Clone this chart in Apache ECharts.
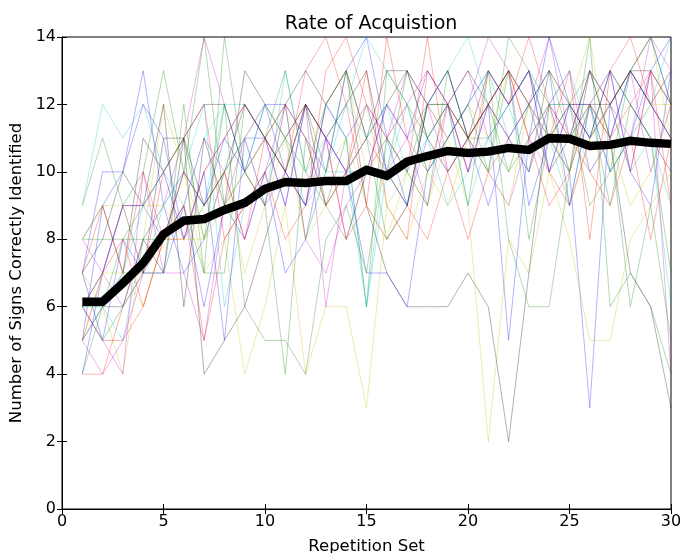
<!DOCTYPE html>
<html><head><meta charset="utf-8">
<script src="https://cdn.jsdelivr.net/npm/echarts@6/dist/echarts.min.js"></script>
<style>html,body{margin:0;padding:0;background:#fff}#c{width:684px;height:553px}</style>
</head><body><div id="c"></div>
<script>
var repetitions = [1,2,3,4,5,6,7,8,9,10,11,12,13,14,15,16,17,18,19,20,21,22,23,24,25,26,27,28,29,30];
var meanScores = [6.15,6.15,6.7,7.3,8.15,8.55,8.6,8.87,9.08,9.5,9.7,9.67,9.73,9.73,10.06,9.88,10.3,10.47,10.62,10.56,10.6,10.71,10.65,11.0,10.98,10.77,10.8,10.92,10.86,10.83];
var xTicks = [0,5,10,15,20,25,30];
var yTicks = [0,2,4,6,8,10,12,14];

var b1 = [5,9,10,13,9,7,8,10,11,12,12,11,10,13,14,11,9,12,13,11,12,13,9,11,10,3,12,13,14,12];
var b2 = [7,10,10,12,11,8,10,5,11,11,9,12,11,10,10,12,11,13,12,10,12,5,11,14,12,12,11,13,12,11];
var b3 = [6,5,8,7,7,9,6,9,8,10,7,8,11,10,7,7,6,10,11,12,13,12,13,10,12,11,13,10,9,13];
var b4 = [4,7,9,9,8,10,9,11,10,12,10,9,12,11,12,10,9,11,10,11,9,11,12,13,9,12,10,11,13,14];
var g1 = [9,11,9,10,13,10,14,9,10,11,13,10,9,11,6,13,12,10,11,12,10,13,8,11,12,13,11,6,9,5];
var g2 = [6,6,7,7,7,12,7,14,10,9,4,11,9,8,10,10,13,11,12,9,13,8,6,6,10,14,6,7,6,4];
var g3 = [8,8,8,8,8,9,7,7,12,11,12,8,10,13,11,8,9,12,12,11,11,10,12,13,11,12,9,12,11,7];
var g4 = [4,6,8,9,10,11,8,12,6,5,5,4,8,9,7,11,10,9,13,11,10,14,13,12,12,9,10,13,14,12];
var r1 = [6,5,5,6,8,8,10,11,12,11,10,13,14,12,9,8,9,8,10,11,12,13,11,10,9,11,12,10,13,12];
var r2 = [4,4,6,7,10,11,12,8,9,10,11,12,11,8,9,14,11,10,12,10,13,12,14,12,11,10,9,11,8,11];
var r3 = [7,9,7,10,8,9,5,8,9,10,8,9,13,14,12,11,10,14,10,8,10,11,12,11,13,8,13,14,12,13];
var r4 = [5,7,8,6,8,10,9,10,8,11,12,11,9,10,13,9,8,13,12,11,12,13,11,9,10,12,11,12,13,9];
var c1 = [9,12,11,12,10,8,9,12,12,11,10,12,10,10,6,10,12,11,9,10,11,12,13,11,10,12,13,12,11,6];
var c2 = [6,6,5,8,9,10,9,10,11,9,13,10,12,11,6,11,10,12,13,14,12,10,11,12,12,10,11,13,12,13];
var c3 = [7,5,6,7,9,10,12,6,9,10,11,9,10,12,14,13,12,10,11,12,13,11,12,11,9,12,10,11,12,14];
var c4 = [5,6,7,9,10,9,11,12,10,12,11,10,11,12,11,12,10,11,12,9,11,12,10,12,13,11,12,10,11,9];
var m1 = [6,7,6,8,9,11,14,12,10,11,9,12,11,8,10,11,13,12,11,12,14,13,12,14,11,12,13,10,13,4];
var m2 = [7,5,4,10,7,7,5,9,11,9,10,12,6,10,11,10,11,9,12,13,11,12,13,10,12,11,12,13,10,12];
var m3 = [5,4,5,7,8,9,11,10,8,10,12,8,7,9,10,12,11,12,10,11,10,9,11,12,13,10,11,13,12,11];
var m4 = [8,7,9,9,10,8,10,11,12,11,10,9,11,10,12,11,12,13,12,10,12,11,10,12,11,13,12,11,14,13];
var y1 = [7,6,4,8,12,10,7,8,4,6,9,4,6,6,3,9,10,12,11,9,2,8,7,10,8,5,5,8,9,10];
var y2 = [6,5,6,7,8,10,8,9,10,11,10,12,10,11,9,8,10,9,11,12,11,13,12,13,12,14,10,11,12,12];
var y3 = [8,9,9,9,9,8,9,10,11,12,11,10,12,13,10,11,12,11,10,11,12,10,11,12,9,11,12,13,14,11];
var y4 = [5,7,7,6,8,8,8,10,7,9,11,8,9,10,12,9,8,10,9,11,10,9,12,11,10,12,11,9,10,12];
var k1 = [8,9,7,11,10,11,4,5,6,8,10,9,12,13,9,7,6,6,6,7,6,2,7,12,10,13,11,7,6,3];
var k2 = [7,8,10,9,12,6,11,9,13,12,11,12,9,10,11,12,13,12,12,11,13,12,13,11,12,12,12,13,13,12];
var k3 = [6,7,9,7,11,11,12,12,10,9,12,13,12,13,11,13,13,11,12,13,12,11,10,13,12,11,13,12,11,10];
var k4 = [5,6,6,8,7,11,9,10,12,11,10,12,11,12,13,10,9,12,13,11,12,13,12,10,11,13,12,13,12,11];

var participants = [b1,g1,r1,c1,m1,y1,k1,b2,g2,r2,c2,m2,y2,k2,b3,g3,r3,c3,m3,y3,k3,b4,g4,r4,c4,m4,y4,k4];
var cycle = ['#0000ff','#008000','#ff0000','#00bfbf','#bf00bf','#bfbf00','#000000'];

var series = participants.map(function(vals, i){
  return {
    type:'line', data: repetitions.map(function(x,j){return [x, vals[j]];}),
    showSymbol:false, symbol:'none', silent:true, animation:false,
    lineStyle:{color:cycle[i%7], width:0.8, opacity:0.38}
  };
});
series.push({
  type:'line', data: repetitions.map(function(x,j){return [x, meanScores[j]];}),
  symbol:'none', animation:false, z:10,
  lineStyle:{color:'#000', width:8.5, join:'miter'}
});

var font = 'DejaVu Sans';
var tick = {show:true, inside:true, length:5, lineStyle:{color:'#000', width:1}};
var chart = echarts.init(document.getElementById('c'), null, {renderer:'canvas'});
chart.setOption({
  animation:false,
  backgroundColor:'#fff',
  title:{text:'Rate of Acquistion', left:366, top:10, textAlign:'center',
    textStyle:{fontFamily:font, fontSize:19, fontWeight:'normal', color:'#000'}},
  grid:{left:62, right:13, top:37, bottom:44, show:true, borderColor:'#000', borderWidth:1,
    containLabel:false, outerBoundsMode:'none'},
  xAxis:[
    {type:'value', min:0, max:30, interval:5, position:'bottom',
     name:'Repetition Set', nameLocation:'middle', nameGap:29,
     nameTextStyle:{fontFamily:font, fontSize:16.5, color:'#000'},
     axisLine:{show:true, onZero:false, lineStyle:{color:'#000'}}, axisTick:tick,
     axisLabel:{fontFamily:font, fontSize:16, color:'#000', margin:5},
     splitLine:{show:false}},
    {type:'value', min:0, max:30, interval:5, position:'top',
     axisLine:{show:true, lineStyle:{color:'#000'}}, axisTick:tick,
     axisLabel:{show:false}, splitLine:{show:false}}
  ],
  yAxis:[
    {type:'value', min:0, max:14, interval:2, position:'left',
     name:'Number of Signs Correctly Identified', nameLocation:'middle', nameGap:37,
     nameTextStyle:{fontFamily:font, fontSize:16.5, color:'#000'},
     axisLine:{show:true, onZero:false, lineStyle:{color:'#000'}}, axisTick:tick,
     axisLabel:{fontFamily:font, fontSize:16, color:'#000', margin:6},
     splitLine:{show:false}},
    {type:'value', min:0, max:14, interval:2, position:'right',
     axisLine:{show:true, lineStyle:{color:'#000'}}, axisTick:tick,
     axisLabel:{show:false}, splitLine:{show:false}}
  ],
  series: series
});
</script></body></html>
